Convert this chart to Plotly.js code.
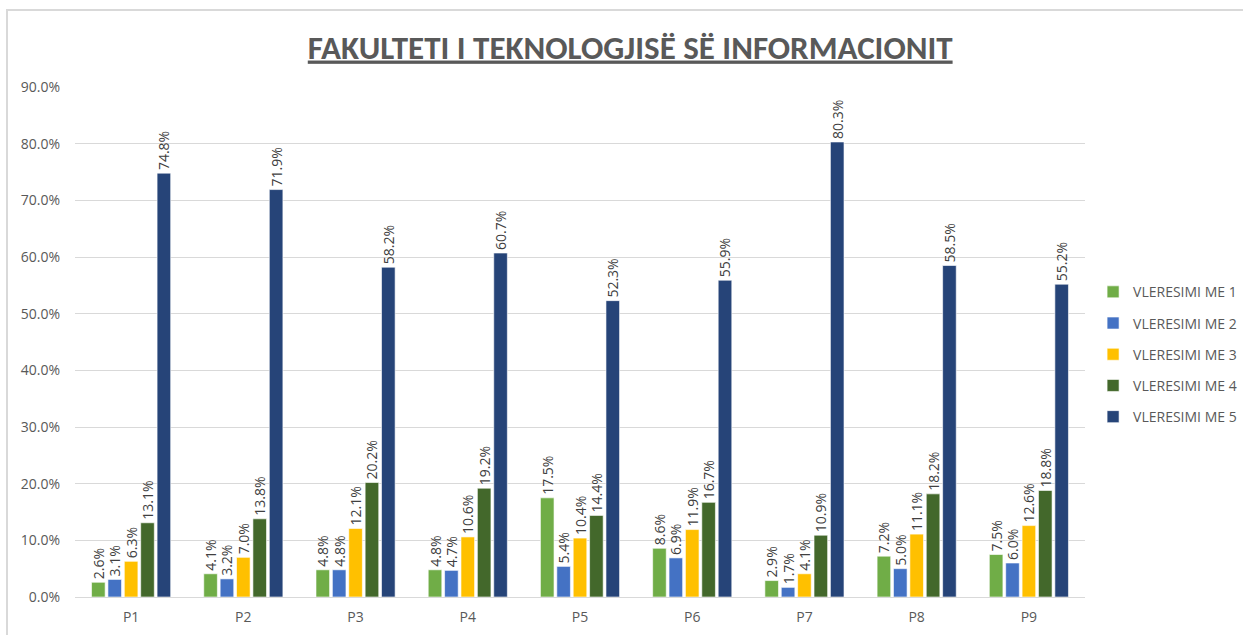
<!DOCTYPE html>
<html>
<head>
<meta charset="utf-8">
<script src="https://cdn.plot.ly/plotly-3.0.1.min.js"></script>
<style>
html,body{margin:0;padding:0;background:#fff;}
#wrap{position:relative;width:1243px;height:635px;overflow:hidden;}
#frame{position:absolute;left:6px;top:9px;width:1300px;height:700px;border-left:2px solid #d9d9d9;border-top:2px solid #d9d9d9;pointer-events:none;z-index:5;}
#chart{width:1243px;height:635px;}
</style>
</head>
<body>
<div id="wrap"><div id="frame"></div><div id="chart"></div></div>
<script>
const categories = ["P1","P2","P3","P4","P5","P6","P7","P8","P9"];
const seriesNames = ["VLERESIMI ME 1","VLERESIMI ME 2","VLERESIMI ME 3","VLERESIMI ME 4","VLERESIMI ME 5"];
const vleresimi1 = [2.6, 4.1, 4.8, 4.8, 17.5, 8.6, 2.9, 7.2, 7.5];
const vleresimi2 = [3.1, 3.2, 4.8, 4.7, 5.4, 6.9, 1.7, 5.0, 6.0];
const vleresimi3 = [6.3, 7.0, 12.1, 10.6, 10.4, 11.9, 4.1, 11.1, 12.6];
const vleresimi4 = [13.1, 13.8, 20.2, 19.2, 14.4, 16.7, 10.9, 18.2, 18.8];
const vleresimi5 = [74.8, 71.9, 58.2, 60.7, 52.3, 55.9, 80.3, 58.5, 55.2];
const yTicks = [0,10,20,30,40,50,60,70,80,90];
const colors = ["#70AD47","#4472C4","#FFC000","#43682B","#264478"];

const TITLE_FONT = "Calibri, Carlito, 'Open Sans', sans-serif";
const FONT = "'Open Sans', sans-serif";
const allSeries = [vleresimi1, vleresimi2, vleresimi3, vleresimi4, vleresimi5];
const traces = allSeries.map((vals, i) => ({
  type: "bar",
  name: seriesNames[i],
  legendgroup: "g" + i,
  x: categories,
  y: vals.map(v => v / 100),
  text: vals.map(v => v.toFixed(1) + "%"),
  textposition: "outside",
  textangle: -90,
  constraintext: "none",
  cliponaxis: false,
  textfont: {family: FONT, size: 14, color: "#404040"},
  marker: {color: colors[i], line: {color: "rgba(255,255,255,0.6)", width: 1}},
  hoverinfo: "x+y+name"
}));

const layout = {
  width: 1243, height: 635,
  margin: {l: 75, r: 158, t: 87, b: 38, autoexpand: false},
  paper_bgcolor: "#fff", plot_bgcolor: "#fff",
  barmode: "group",
  bargap: 0.27,
  bargroupgap: 0.17,
  font: {family: FONT, color: "#595959"},
  title: {
    text: "FAKULTETI I TEKNOLOGJISË SË INFORMACIONIT",
    font: {family: TITLE_FONT, size: 33, color: "#595959", weight: "bold", lineposition: "under"},
    xref: "container", x: 0.507, xanchor: "center",
    yref: "container", y: 0.926, yanchor: "middle"
  },
  xaxis: {
    type: "category",
    showgrid: false,
    showline: true, linecolor: "#d9d9d9", linewidth: 1,
    ticks: "",
    tickfont: {family: FONT, size: 14, color: "#595959"},
    ticklabelstandoff: 7
  },
  yaxis: {
    range: [0, 0.9],
    tickvals: yTicks.map(v => v / 100),
    ticktext: yTicks.map(v => v.toFixed(1) + "%"),
    showgrid: true, gridcolor: "#d9d9d9", gridwidth: 1,
    zeroline: false, showline: false, ticks: "",
    tickfont: {family: FONT, size: 14, color: "#595959"},
    ticklabelstandoff: 14
  },
  legend: {
    x: 1.008, xanchor: "left",
    y: 0.476, yanchor: "middle",
    font: {family: FONT, size: 14, color: "#595959"},
    tracegroupgap: 10,
    itemwidth: 30
  },
  showlegend: true
};

Plotly.newPlot("chart", traces, layout, {displayModeBar: false, staticPlot: true});
</script>
</body>
</html>
